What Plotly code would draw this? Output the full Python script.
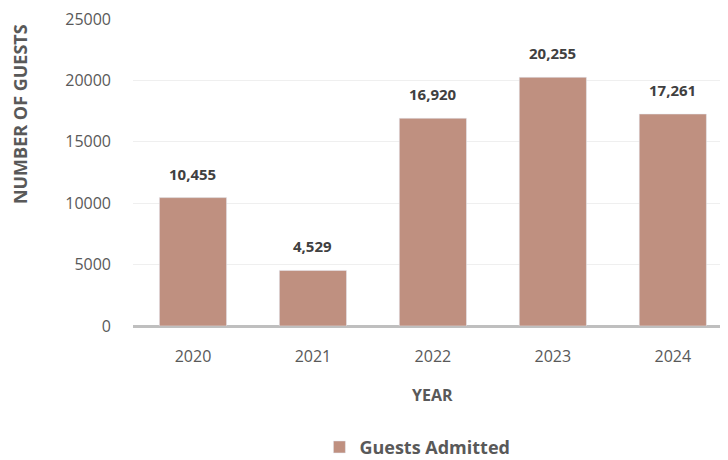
import plotly.graph_objects as go

years = ["2020", "2021", "2022", "2023", "2024"]
guests = [10455, 4529, 16920, 20255, 17261]
y_ticks = [0, 5000, 10000, 15000, 20000, 25000]

TXT = "#595959"
fig = go.Figure()
fig.add_trace(go.Bar(
    x=years, y=guests, name="<b>Guests Admitted</b>",
    marker=dict(color="#bf9080"),
    hoverinfo="skip",
))
for i, v in enumerate(guests):
    fig.add_annotation(x=i, y=v, xref="x", yref="y", text=f"<b>{v:,}</b>", showarrow=False,
                       yanchor="bottom", yshift=12,
                       font=dict(family="Open Sans", size=15, color="#404040"))

fig.add_annotation(xref="paper", yref="paper", x=-0.19, y=0.69, xanchor="center", yanchor="middle",
                   text="<b>NUMBER OF GUESTS</b>", textangle=-90, showarrow=False,
                   font=dict(family="Open Sans", size=18, color=TXT))
fig.add_annotation(xref="x", yref="paper", x=2, y=-0.225, xanchor="center", yanchor="middle",
                   text="<b>YEAR</b>", showarrow=False,
                   font=dict(family="Open Sans", size=16, color=TXT))

fig.update_layout(
    width=720, height=452,
    margin=dict(l=125, r=0, t=11, b=134, autoexpand=False),
    paper_bgcolor="white", plot_bgcolor="white",
    bargap=0.44,
    showlegend=True,
    legend=dict(orientation="h", x=0.478, xanchor="center", y=-0.395, yanchor="middle",
                font=dict(family="Open Sans", size=18, color=TXT)),
    font=dict(family="Open Sans", color=TXT),
)
fig.update_xaxes(
    type="category", range=[-0.5, 4.46], automargin=False,
    showgrid=False, showline=False, zeroline=False,
    ticks="", ticklabelstandoff=19,
    tickfont=dict(family="Open Sans", size=16, color=TXT),
)
fig.update_yaxes(
    range=[0, 25000], tickvals=y_ticks, ticktext=[str(t) for t in y_ticks], automargin=False,
    showgrid=True, gridcolor="#efefef", gridwidth=1,
    zeroline=True, zerolinecolor="#bfbfbf", zerolinewidth=3,
    showline=False, ticks="", ticklabelstandoff=21, ticklabeloverflow="allow",
    tickfont=dict(family="Open Sans", size=16, color=TXT),
)

fig.write_html("out.html")
